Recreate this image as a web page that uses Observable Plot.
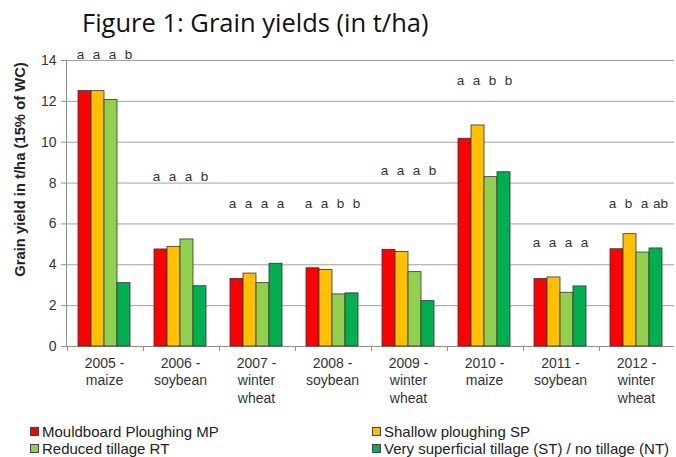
<!DOCTYPE html>
<html>
<head>
<meta charset="utf-8">
<script src="https://cdn.jsdelivr.net/npm/d3@7"></script>
<script src="https://cdn.jsdelivr.net/npm/@observablehq/plot@0.6"></script>
<style>
  html, body { margin: 0; padding: 0; background: #fff; }
  #wrap { position: relative; width: 676px; height: 457px; overflow: hidden; font-family: "Liberation Sans", Arial, sans-serif; }
  #title { position: absolute; left: 82px; top: 4px; font-family: "Open Sans", sans-serif; font-size: 25.5px; color: #111; white-space: nowrap; line-height: 36px; }
  #chart { position: absolute; left: 0; top: 40px; }
  .leg { position: absolute; font-size: 15px; line-height: 17px; color: #222; white-space: nowrap; display: flex; align-items: center; }
  .sw { width: 7px; height: 7px; border: 1px solid #444; margin-right: 3px; display: inline-block; }
</style>
</head>
<body>
<div id="wrap">
  <div id="title">Figure 1: Grain yields (in t/ha)</div>
  <div id="chart"></div>
  <div id="legend"></div>
</div>
<script>
const groups = ["2005 -\nmaize", "2006 -\nsoybean", "2007 -\nwinter\nwheat", "2008 -\nsoybean", "2009 -\nwinter\nwheat", "2010 -\nmaize", "2011 -\nsoybean", "2012 -\nwinter\nwheat"];
const seriesNames = ["Mouldboard Ploughing MP", "Shallow ploughing SP", "Reduced tillage RT", "Very superficial tillage (ST) / no tillage (NT)"];
const seriesColors = ["#ff0000", "#ffc000", "#92d050", "#00b050"];

const mp = [12.5, 4.75, 3.31, 3.83, 4.73, 10.17, 3.30, 4.76];
const sp = [12.5, 4.88, 3.57, 3.75, 4.63, 10.82, 3.38, 5.50];
const rt = [12.07, 5.24, 3.10, 2.55, 3.64, 8.29, 2.63, 4.60];
const st = [3.10, 2.95, 4.05, 2.60, 2.22, 8.53, 2.94, 4.80];

const lettersMP = ["a", "a", "a", "a", "a", "a", "a", "a"];
const lettersSP = ["a", "a", "a", "a", "a", "a", "a", "b"];
const lettersRT = ["a", "a", "a", "b", "a", "b", "a", "a"];
const lettersST = ["b", "b", "a", "b", "b", "b", "a", "ab"];
const letterHeights = [14.3, 8.3, 7.0, 7.0, 8.6, 13.0, 5.1, 7.0];

const yTicks = [0, 2, 4, 6, 8, 10, 12, 14];
const yLabel = "Grain yield in t/ha (15% of WC)";

const values = [mp, sp, rt, st];
const letters = [lettersMP, lettersSP, lettersRT, lettersST];
const bars = [];
const labels = [];
groups.forEach((g, gi) => {
  seriesNames.forEach((s, si) => {
    bars.push({group: g, series: s, value: values[si][gi]});
    labels.push({group: g, series: s, si, letter: letters[si][gi], h: letterHeights[gi]});
  });
});

const font = "Liberation Sans, Arial, sans-serif";

const chart = Plot.plot({
  width: 676,
  height: 370,
  marginTop: 20,
  marginBottom: 64,
  marginLeft: 63,
  marginRight: 0,
  style: {fontFamily: font, background: "transparent"},
  fx: {domain: groups, padding: 0, label: null},
  x: {domain: seriesNames, paddingInner: 0, paddingOuter: 0.75, axis: null},
  y: {domain: [0, 14], label: null},
  color: {domain: seriesNames, range: seriesColors},
  marks: [
    Plot.gridY(yTicks, {stroke: "#a0a0a0", strokeOpacity: 1}),
    Plot.ruleY([0], {stroke: "#909090"}),
    Plot.frame({anchor: "left", facetAnchor: "left", stroke: "#909090"}),
    Plot.ruleX([seriesNames[0]], {x: d => d, y1: 0, y2: 0, insetBottom: -5, dx: -17.5, stroke: "#909090"}),
    Plot.axisY(yTicks, {tickSize: 5, tickPadding: 5, fontSize: 14, color: "#333", stroke: "#909090", label: null}),
    Plot.axisFx({anchor: "bottom", tickSize: 0, tickPadding: 9, fontSize: 14, lineHeight: 1.25, fill: "#333", label: null}),
    Plot.barY(bars, {fx: "group", x: "series", y: "value", fill: "series", stroke: "#333", strokeWidth: 0.8}),
    ...seriesNames.map((s, si) =>
      Plot.text(labels.filter(d => d.si === si), {fx: "group", x: "series", y: "h", text: "letter", dx: (si - 1.5) * 3, fontSize: 13.5, fill: "#333"})
    ),
    Plot.text([yLabel], {frameAnchor: "left", facetAnchor: "left", rotate: -90, textAnchor: "middle", dx: -46, dy: -34, fontWeight: "bold", fontSize: 14.8, fill: "#222", text: d => d})
  ]
});
document.getElementById("chart").appendChild(chart);

const legendPos = [[30, 423], [372, 423], [30, 440], [372, 440]];
const legend = document.getElementById("legend");
seriesNames.forEach((s, i) => {
  const el = document.createElement("div");
  el.className = "leg";
  el.style.left = legendPos[i][0] + "px";
  el.style.top = legendPos[i][1] + "px";
  const sw = document.createElement("span");
  sw.className = "sw";
  sw.style.background = seriesColors[i];
  el.appendChild(sw);
  el.appendChild(document.createTextNode(s));
  legend.appendChild(el);
});
</script>
</body>
</html>
